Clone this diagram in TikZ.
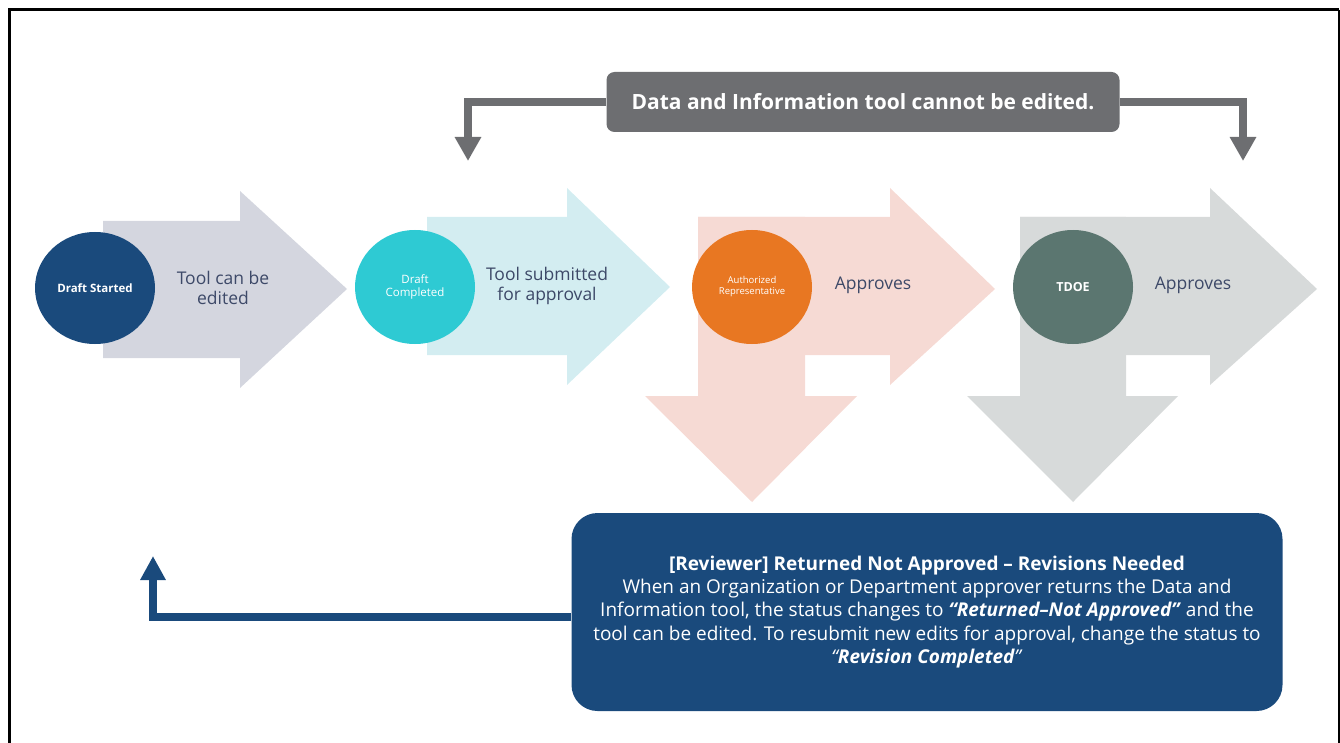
\documentclass[tikz,border=0pt]{standalone}
\usepackage{fontspec}
\setmainfont{Open Sans}
\usepackage{tikz}
\usetikzlibrary{arrows.meta,positioning}
\definecolor{navy}{HTML}{1A4A7C}
\definecolor{lavgray}{HTML}{D4D6DF}
\definecolor{icecyan}{HTML}{D3EDF1}
\definecolor{blush}{HTML}{F6DAD4}
\definecolor{ashgray}{HTML}{D7DADA}
\definecolor{turq}{HTML}{2ECAD3}
\definecolor{tangerine}{HTML}{E87722}
\definecolor{slategreen}{HTML}{5B7670}
\definecolor{boxgray}{HTML}{6D6E71}
\definecolor{labelink}{HTML}{3D4968}

\begin{document}
\begin{tikzpicture}[x=1pt,y=-1pt,
  label/.style={text=labelink,align=center,font=\fontsize{17.5}{19.5}\selectfont},
  conn/.style={line width=8pt}]
\useasboundingbox (0,0) rectangle (1340,743);
\draw[line width=3pt] (9,743) -- (9,10) -- (1338.5,10);
\draw[line width=2pt] (1338.5,10) -- (1338.5,743);

% big arrows
\fill[lavgray] (103,221) -- (240,221) -- (240,191) -- (347,289) -- (240,388) -- (240,358) -- (103,358) -- cycle;
\fill[icecyan] (427,217) -- (567,217) -- (567,188) -- (670,287) -- (567,385) -- (567,355) -- (427,355) -- cycle;
\fill[blush] (698,217) -- (890,217) -- (890,188) -- (995,289) -- (890,385) -- (890,355) -- (698,355) -- cycle;
\fill[blush] (698,217) -- (805,217) -- (805,396) -- (857,396) -- (752,502) -- (645,396) -- (698,396) -- cycle;
\fill[ashgray] (1020,217) -- (1210,217) -- (1210,188) -- (1317,289) -- (1210,385) -- (1210,355) -- (1020,355) -- cycle;
\fill[ashgray] (1020,217) -- (1126,217) -- (1126,396) -- (1178,396) -- (1073,502) -- (967,396) -- (1020,396) -- cycle;

% stages
\fill[navy] (95,288) ellipse [x radius=60pt,y radius=56pt];
\node (started) at (95,288) [text=white,font=\bfseries\fontsize{11.5}{13}\selectfont] {Draft Started};
\fill[turq] (415,287) ellipse [x radius=60pt,y radius=57pt];
\node (completed) at (415,287) [text=white,align=center,font=\fontsize{11.5}{13.5}\selectfont] {Draft\\Completed};
\fill[tangerine] (752,287) ellipse [x radius=60pt,y radius=57pt];
\node (authrep) at (752,287) [text=white,align=center,font=\fontsize{9.5}{11}\selectfont] {Authorized\\Representative};
\fill[slategreen] (1073,287) ellipse [x radius=60pt,y radius=57pt];
\node (tdoe) at (1073,287) [text=white,font=\bfseries\fontsize{12.5}{14}\selectfont] {TDOE};

\node[label] (edit) at (223,288) {Tool can be\\edited};
\node[label] (submit) at (547,286) {Tool submitted\\for approval};
\node[label] (appr1) at (873,285) {Approves};
\node[label] (appr2) at (1193,285) {Approves};

% locked note
\node (locked) at (863,102) [fill=boxgray,rounded corners=8pt,minimum width=513pt,minimum height=60pt,text=white,font=\bfseries\fontsize{21}{23}\selectfont] {Data and Information tool cannot be edited.};
\coordinate (lockL) at (468,161);
\coordinate (lockR) at (1243,161);
\draw[conn,boxgray,-{Triangle[length=24pt,width=25pt]}] (locked.west) -| (lockL);
\draw[conn,boxgray,-{Triangle[length=24pt,width=25pt]}] (locked.east) -| (lockR);

% returned note
\node (returned) at (927,612) [fill=navy,rounded corners=26pt,minimum width=711pt,minimum height=198pt,text=white,align=center,font=\fontsize{19}{23.3}\selectfont] {%
\textbf{[Reviewer] Returned Not Approved -- Revisions Needed}\\
When an Organization or Department approver returns the Data and\\
Information tool, the status changes to \textbf{\textit{“Returned--Not Approved”}} and the\\
tool can be edited. To resubmit new edits for approval, change the status to\\
\textit{“\textbf{Revision Completed}”}};
\coordinate (restart) at (153,556);
\draw[conn,navy,-{Triangle[length=24pt,width=24pt]}] ([yshift=-5pt]returned.west) -| (restart);
\end{tikzpicture}
\end{document}
